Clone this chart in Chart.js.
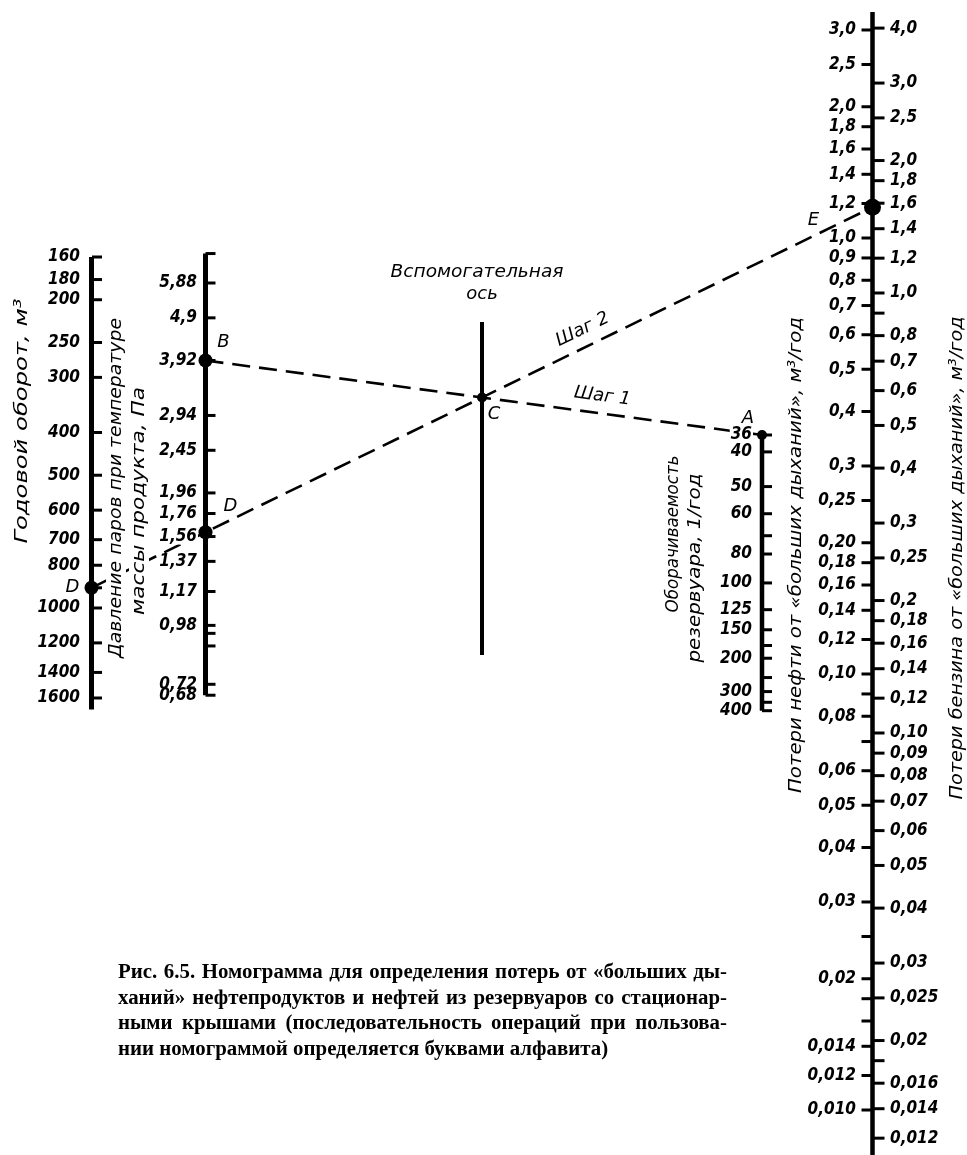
<!DOCTYPE html>
<html>
<head>
<meta charset="utf-8">
<script src="https://cdn.jsdelivr.net/npm/chart.js@4/dist/chart.umd.min.js"></script>
<style>
  html, body { margin: 0; padding: 0; background: #fff; }
  canvas { display: block; }
</style>
</head>
<body>
<canvas id="nomo" width="967" height="1155"></canvas>
<script>
const W = 967, H = 1155;

// Годовой оборот, м3
const volumeTicks = [160, 180, 200, 250, 300, 400, 500, 600, 700, 800, 1000, 1200, 1400, 1600];
const volumeLabels = ["160", "180", "200", "250", "300", "400", "500", "600", "700", "800", "1000", "1200", "1400", "1600"];
const volumeMinor = [900];

// Давление паров, Па
const pressureTicks = [5.88, 4.9, 3.92, 2.94, 2.45, 1.96, 1.76, 1.56, 1.37, 1.17, 0.98, 0.72, 0.68];
const pressureLabels = ["5,88", "4,9", "3,92", "2,94", "2,45", "1,96", "1,76", "1,56", "1,37", "1,17", "0,98", "0,72", "0,68"];
const pressureMinor = [6.86, 0.94, 0.88];

// Оборачиваемость резервуара, 1/год
const turnoverTicks = [36, 40, 50, 60, 80, 100, 125, 150, 200, 300, 400];
const turnoverLabels = ["36", "40", "50", "60", "80", "100", "125", "150", "200", "300", "400"];
const turnoverMinor = [70, 175, 250, 350];

// Потери нефти, м3/год (left side of the right axis)
const oilTicks = [3.0, 2.5, 2.0, 1.8, 1.6, 1.4, 1.2, 1.0, 0.9, 0.8, 0.7, 0.6, 0.5, 0.4, 0.3, 0.25, 0.20, 0.18, 0.16, 0.14, 0.12, 0.10, 0.08, 0.06, 0.05, 0.04, 0.03, 0.02, 0.014, 0.012, 0.010];
const oilLabels = ["3,0", "2,5", "2,0", "1,8", "1,6", "1,4", "1,2", "1,0", "0,9", "0,8", "0,7", "0,6", "0,5", "0,4", "0,3", "0,25", "0,20", "0,18", "0,16", "0,14", "0,12", "0,10", "0,08", "0,06", "0,05", "0,04", "0,03", "0,02", "0,014", "0,012", "0,010"];
const oilMinor = [0.09, 0.07, 0.025, 0.018, 0.016];

// Потери бензина, м3/год (right side of the right axis)
const gasTicks = [4.0, 3.0, 2.5, 2.0, 1.8, 1.6, 1.4, 1.2, 1.0, 0.8, 0.7, 0.6, 0.5, 0.4, 0.3, 0.25, 0.2, 0.18, 0.16, 0.14, 0.12, 0.10, 0.09, 0.08, 0.07, 0.06, 0.05, 0.04, 0.03, 0.025, 0.02, 0.016, 0.014, 0.012];
const gasLabels = ["4,0", "3,0", "2,5", "2,0", "1,8", "1,6", "1,4", "1,2", "1,0", "0,8", "0,7", "0,6", "0,5", "0,4", "0,3", "0,25", "0,2", "0,18", "0,16", "0,14", "0,12", "0,10", "0,09", "0,08", "0,07", "0,06", "0,05", "0,04", "0,03", "0,025", "0,02", "0,016", "0,014", "0,012"];
const gasMinor = [0.9, 0.018];

// worked example: A - turnover, B - vapour pressure, D - annual turnover
const readA = 36, readB = 3.92, readD = 900;

const captionLines = [
  "Рис. 6.5. Номограмма для определения потерь от «больших ды-",
  "ханий» нефтепродуктов и нефтей из резервуаров со стационар-",
  "ными крышами (последовательность операций при пользова-",
  "нии номограммой определяется буквами алфавита)"
];

// layout
const axisX = { volume: 91.5, pressure: 205.5, aux: 482, turnover: 762, losses: 872.5 };
const TICK_FONT = "italic bold 17px 'DejaVu Sans Condensed', 'DejaVu Sans', sans-serif";
const TITLE_FONT = "italic 18px 'DejaVu Sans', sans-serif";

// turnover scale of the nomogram is laid out by the coefficient K = (180 + n) / 6n
function turnoverFactor(n) { return (180 + n) / (6 * n); }

// a hidden log scale that puts anchorValue at pixel anchorY
function logAxis(anchorValue, anchorY, pxPerDecade, reverse) {
  const top = anchorValue * Math.pow(10, (reverse ? -1 : 1) * anchorY / pxPerDecade);
  const bottom = anchorValue * Math.pow(10, (reverse ? 1 : -1) * (H - anchorY) / pxPerDecade);
  return {
    type: 'logarithmic', axis: 'y', position: 'left', display: false, reverse: reverse,
    min: Math.min(top, bottom), max: Math.max(top, bottom)
  };
}

function axisLine(id, x, from, to, width) {
  return {
    yAxisID: id, showLine: true, borderColor: '#000', borderWidth: width,
    pointRadius: 0, data: [{ x: x, y: from }, { x: x, y: to }]
  };
}

function tickMarks(id, x, values, half) {
  return {
    yAxisID: id, showLine: false, pointStyle: 'line', pointRadius: half,
    pointBorderWidth: 3, pointBorderColor: '#000',
    data: values.map(v => ({ x: x, y: v }))
  };
}

function keyDot(id, x, value, r) {
  return {
    yAxisID: id, showLine: false, pointStyle: 'circle', pointRadius: r,
    pointBackgroundColor: '#000', pointBorderColor: '#000', pointBorderWidth: 0,
    data: [{ x: x, y: value }]
  };
}

function rotatedTitle(ctx, text, cx, cy, length) {
  ctx.save();
  ctx.translate(cx, cy);
  ctx.rotate(-Math.PI / 2);
  ctx.font = TITLE_FONT;
  const w = ctx.measureText(text).width;
  ctx.scale(length / w, 1);
  ctx.fillStyle = '#fff';
  ctx.fillRect(-w / 2 - 2, -10, w + 4, 20);
  ctx.fillStyle = '#000';
  ctx.textAlign = 'center';
  ctx.textBaseline = 'middle';
  ctx.fillText(text, 0, 0);
  ctx.restore();
}

function fitText(ctx, text, cx, cy, length) {
  ctx.save();
  ctx.translate(cx, cy);
  const w = ctx.measureText(text).width;
  if (length) ctx.scale(length / w, 1);
  ctx.textAlign = 'center';
  ctx.fillText(text, 0, 0);
  ctx.restore();
}

function justify(ctx, text, x, y, width) {
  const words = text.split(' ');
  const total = words.reduce((s, w) => s + ctx.measureText(w).width, 0);
  const gap = (width - total) / (words.length - 1);
  let cx = x;
  words.forEach(w => {
    ctx.fillText(w, cx, y);
    cx += ctx.measureText(w).width + gap;
  });
}

const nomogramPlugin = {
  id: 'nomogram',
  afterDatasetsDraw(chart) {
    const ctx = chart.ctx, s = chart.scales;
    const px = v => s.x.getPixelForValue(v);
    const at = (p, q, x) => p.y + (q.y - p.y) * (x - p.x) / (q.x - p.x);

    const A = { x: px(axisX.turnover), y: s.yTurn.getPixelForValue(turnoverFactor(readA)) };
    const B = { x: px(axisX.pressure), y: s.yPrs.getPixelForValue(readB) };
    const D1 = { x: px(axisX.volume), y: s.yVol.getPixelForValue(readD) };
    const C = { x: px(axisX.aux), y: 0 };
    C.y = at(B, A, C.x);
    const E = { x: px(axisX.losses), y: at(D1, C, px(axisX.losses)) };
    const D2 = { x: B.x, y: at(D1, C, B.x) };

    // Шаг 1 and Шаг 2
    ctx.save();
    ctx.setLineDash([18, 9]);
    ctx.lineWidth = 2.6;
    ctx.strokeStyle = '#000';
    [[B, A], [D1, E]].forEach(([p, q]) => {
      ctx.beginPath(); ctx.moveTo(p.x, p.y); ctx.lineTo(q.x, q.y); ctx.stroke();
    });
    ctx.restore();

    // axis titles
    ctx.save();
    rotatedTitle(ctx, "Годовой оборот, м³", 22, 421, 245);
    rotatedTitle(ctx, "Давление паров при температуре", 116, 488, 340);
    rotatedTitle(ctx, "массы продукта, Па", 139, 501, 228);
    rotatedTitle(ctx, "Оборачиваемость", 673, 534, 157);
    rotatedTitle(ctx, "резервуара, 1/год", 695, 568, 189);
    rotatedTitle(ctx, "Потери нефти от «больших дыханий», м³/год", 796, 555, 476);
    rotatedTitle(ctx, "Потери бензина от «больших дыханий», м³/год", 957, 558, 483);
    ctx.restore();

    // tick labels: white boxes first so neighbouring labels never clip each other
    ctx.save();
    ctx.font = TICK_FONT;
    ctx.textBaseline = 'middle';
    const groups = [
      [s.yVol, volumeTicks, volumeLabels, 80, 'right'],
      [s.yPrs, pressureTicks, pressureLabels, 197, 'right'],
      [s.yTurn, turnoverTicks.map(turnoverFactor), turnoverLabels, 752, 'right'],
      [s.yOil, oilTicks, oilLabels, 856, 'right'],
      [s.yGas, gasTicks, gasLabels, 890, 'left']
    ];
    ctx.fillStyle = '#fff';
    groups.forEach(([scale, values, labels, x, align]) => values.forEach((v, i) => {
      const w = ctx.measureText(labels[i]).width;
      const left = align === 'right' ? x - w : x;
      ctx.fillRect(left - 1, scale.getPixelForValue(v) - 8, w + 2, 16);
    }));
    ctx.fillStyle = '#000';
    groups.forEach(([scale, values, labels, x, align]) => values.forEach((v, i) => {
      ctx.textAlign = align;
      ctx.fillText(labels[i], x, scale.getPixelForValue(v));
    }));
    ctx.restore();

    // points found on the nomogram
    ctx.save();
    ctx.fillStyle = '#000';
    [[C, 5], [D2, 7], [E, 8.5]].forEach(([p, r]) => {
      ctx.beginPath(); ctx.arc(p.x, p.y, r, 0, Math.PI * 2); ctx.fill();
    });

    ctx.font = TITLE_FONT;
    ctx.textAlign = 'center';
    ctx.textBaseline = 'middle';
    ctx.fillText("A", A.x - 14, A.y - 17);
    ctx.fillText("B", B.x + 18, B.y - 18);
    ctx.fillText("C", C.x + 12, C.y + 17);
    ctx.fillText("D", D2.x + 25, D2.y - 26);
    ctx.fillText("D", D1.x - 19, D1.y);
    ctx.fillText("E", E.x - 59, E.y + 13);

    // step captions along their lines
    const stepLabel = (text, p, q, x) => {
      const ang = Math.atan2(q.y - p.y, q.x - p.x);
      const y = at(p, q, x);
      ctx.save();
      ctx.translate(x + 17 * Math.sin(ang), y - 17 * Math.cos(ang));
      ctx.rotate(ang);
      ctx.fillText(text, 0, 0);
      ctx.restore();
    };
    stepLabel("Шаг 1", B, A, 600);
    stepLabel("Шаг 2", D1, E, 590);

    fitText(ctx, "Вспомогательная", 477, 272, 173);
    fitText(ctx, "ось", 482, 294);

    // caption, widened to the block of the reference and justified
    ctx.font = "bold 20px 'Liberation Serif', 'Times New Roman', serif";
    ctx.textAlign = 'left';
    ctx.textBaseline = 'alphabetic';
    const sx = 598 / ctx.measureText(captionLines[0]).width;
    ctx.translate(118, 0);
    ctx.scale(sx, 1);
    captionLines.forEach((line, i) => {
      const y = 978 + i * 25.5;
      if (i < captionLines.length - 1) justify(ctx, line, 0, y, 609 / sx);
      else ctx.fillText(line, 0, y);
    });
    ctx.restore();
  }
};

new Chart(document.getElementById("nomo"), {
  type: "scatter",
  data: {
    datasets: [
      axisLine('yVol', axisX.volume, 160, 1700, 5),
      axisLine('yPrs', axisX.pressure, 6.86, 0.68, 5),
      axisLine('yPage', axisX.aux, 322, 655, 4),
      axisLine('yTurn', axisX.turnover, turnoverFactor(36), turnoverFactor(400), 4.5),
      axisLine('yOil', axisX.losses, 3.3, 0.0075, 4.5),

      tickMarks('yVol', axisX.volume + 5.5, volumeTicks.concat(volumeMinor), 5),
      tickMarks('yPrs', axisX.pressure + 5, pressureTicks.concat(pressureMinor), 5),
      tickMarks('yTurn', axisX.turnover + 5, turnoverTicks.concat(turnoverMinor).map(turnoverFactor), 5),
      tickMarks('yOil', axisX.losses - 5.5, oilTicks.concat(oilMinor), 5.5),
      tickMarks('yGas', axisX.losses + 6, gasTicks.concat(gasMinor), 6),

      keyDot('yTurn', axisX.turnover, turnoverFactor(readA), 5),
      keyDot('yPrs', axisX.pressure, readB, 7),
      keyDot('yVol', axisX.volume, readD, 7)
    ]
  },
  options: {
    responsive: false,
    animation: false,
    events: [],
    layout: { padding: 0, autoPadding: false },
    plugins: { legend: { display: false }, tooltip: { enabled: false } },
    scales: {
      x: { type: 'linear', min: 0, max: W, display: false },
      yPage: { type: 'linear', axis: 'y', position: 'left', min: 0, max: H, reverse: true, display: false },
      yVol: logAxis(160, 257, 441, true),
      yPrs: logAxis(5.88, 283, 440, false),
      yTurn: logAxis(1, 435, 447, false),
      yOil: logAxis(1, 238, 436, false),
      yGas: logAxis(1, 293, 440, false)
    }
  },
  plugins: [nomogramPlugin]
});
</script>
</body>
</html>
